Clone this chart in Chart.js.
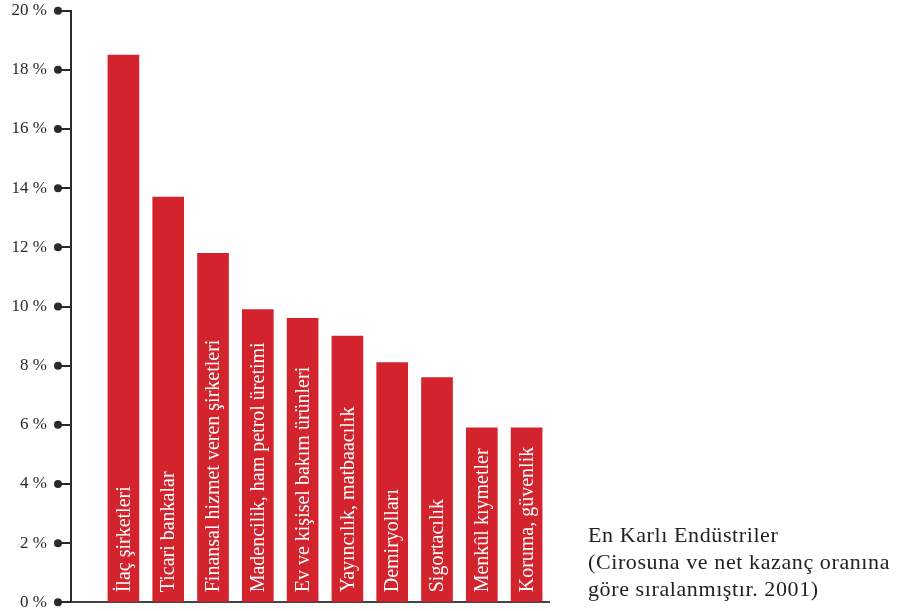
<!DOCTYPE html>
<html>
<head>
<meta charset="utf-8">
<script src="https://cdn.jsdelivr.net/npm/chart.js@4/dist/chart.umd.min.js"></script>
<style>
  html, body { margin: 0; padding: 0; background: #fff; }
  #wrap { position: relative; width: 917px; height: 611px; }
  #caption {
    position: absolute; left: 588px; top: 521px;
    font-family: "Liberation Serif", serif; font-size: 22px; line-height: 27px;
    letter-spacing: 0.6px; color: #222; white-space: nowrap;
  }
</style>
</head>
<body>
<div id="wrap">
  <canvas id="chart" width="917" height="611"></canvas>
  <div id="caption"></div>
</div>
<script>
// Veriler
const categories = ['İlaç şirketleri', 'Ticari bankalar', 'Finansal hizmet veren şirketleri',
  'Madencilik, ham petrol üretimi', 'Ev ve kişisel bakım ürünleri', 'Yayıncılık, matbaacılık',
  'Demiryolları', 'Sigortacılık', 'Menkûl kıymetler', 'Koruma, güvenlik'];
const values = [18.5, 13.7, 11.8, 9.9, 9.6, 9.0, 8.1, 7.6, 5.9, 5.9];
const yMin = 0, yMax = 20, yStep = 2;
const captionLines = ['En Karlı Endüstriler', '(Cirosuna ve net kazanç oranına', 'göre sıralanmıştır. 2001)'];

document.getElementById('caption').innerHTML = captionLines.join('<br>');

const RED = '#d3232c';
const INK = '#2a2a2a';
const SERIF = '"Liberation Serif", serif';

// noktalar: y ekseni çentiklerinin ucunda
const tickDots = {
    id: 'tickDots',
    afterDraw(chart) {
        const ctx = chart.ctx;
        const y = chart.scales.y;
        const x0 = chart.chartArea.left - 13;
        ctx.save();
        ctx.fillStyle = INK;
        y.ticks.forEach((t, i) => {
            ctx.beginPath();
            ctx.arc(x0, y.getPixelForTick(i), 4, 0, Math.PI * 2);
            ctx.fill();
        });
        ctx.restore();
    }
};

// çubukların içindeki dikey yazılar
const barLabels = {
    id: 'barLabels',
    afterDatasetsDraw(chart) {
        const ctx = chart.ctx;
        const meta = chart.getDatasetMeta(0);
        ctx.save();
        ctx.fillStyle = '#fff';
        ctx.font = '20px ' + SERIF;
        ctx.textAlign = 'left';
        ctx.textBaseline = 'middle';
        meta.data.forEach((bar, i) => {
            ctx.save();
            ctx.translate(bar.x + 1, bar.base - 9);
            ctx.rotate(-Math.PI / 2);
            ctx.fillText(categories[i], 0, 0);
            ctx.restore();
        });
        ctx.restore();
    }
};

const chart = new Chart(document.getElementById('chart').getContext('2d'), {
    type: 'bar',
    data: {
        datasets: [{
            data: values.map((v, i) => ({ x: i, y: v })),
            backgroundColor: RED,
            borderWidth: 0,
            barThickness: 31
        }]
    },
    options: {
        responsive: false,
        animation: false,
        layout: { padding: { left: 0, right: 368, top: 0, bottom: 0 } },
        plugins: { legend: { display: false }, tooltip: { enabled: false } },
        scales: {
            x: {
                type: 'linear',
                offset: false,
                min: -1.17,
                max: 9.5,
                afterFit(s) { s.height = 0; },
                ticks: { display: false },
                grid: { display: false },
                border: { display: true, color: '#444', width: 2 }
            },
            y: {
                min: yMin,
                max: yMax,
                afterFit(s) {
                    s.width = 71;
                    s.paddingTop = 10.7;
                    s.paddingBottom = 8.7;
                },
                ticks: {
                    stepSize: yStep,
                    padding: 11,
                    color: INK,
                    font: { family: SERIF, size: 17 },
                    callback: v => v + ' %'
                },
                grid: { drawOnChartArea: false, drawTicks: true, tickLength: 13, color: INK, lineWidth: 2 },
                border: { display: true, color: INK, width: 2 }
            }
        }
    },
    plugins: [tickDots, barLabels]
});
</script>
</body>
</html>
